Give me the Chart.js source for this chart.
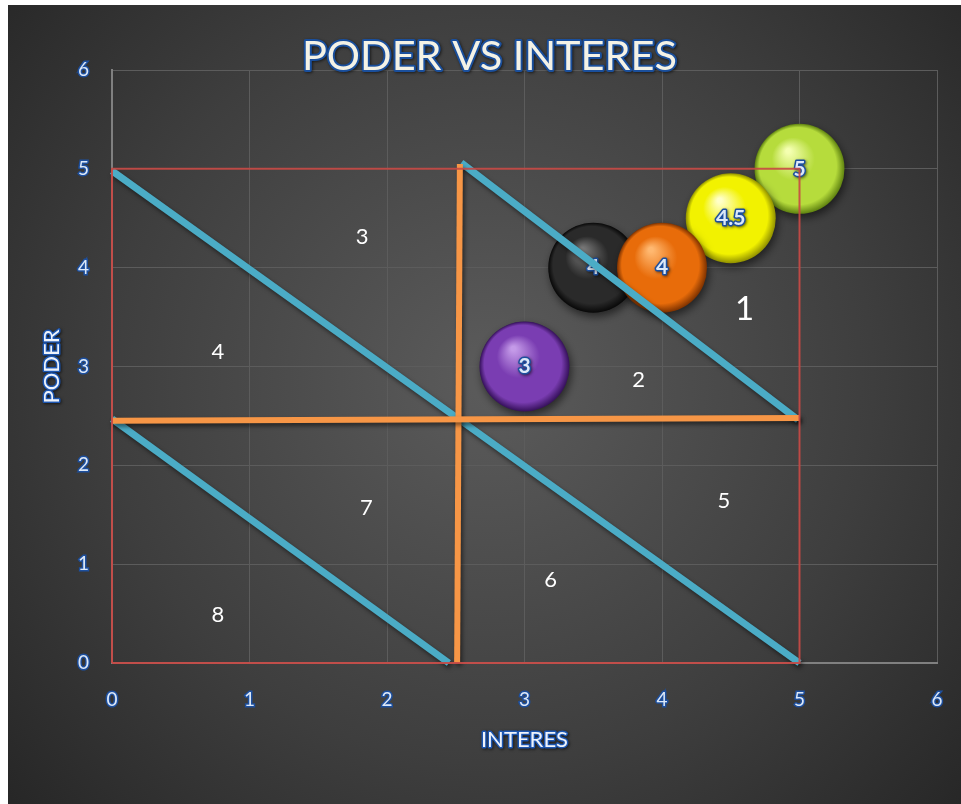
<!DOCTYPE html>
<html>
<head>
<meta charset="utf-8">
<script src="https://cdn.jsdelivr.net/npm/chart.js@4/dist/chart.umd.min.js"></script>
<style>
html,body{margin:0;padding:0;background:#ffffff;}
canvas{display:block;}
</style>
</head>
<body>
<canvas id="c" width="961" height="804"></canvas>
<script>
// ---- data ----
const titleText = 'PODER VS INTERES';
const xAxisTitle = 'INTERES';
const yAxisTitle = 'PODER';
const axisMin = 0, axisMax = 6, axisStep = 1;

// bubbles (drawing order: later on top)
const bubbleX = [5, 4.5, 3.5, 4, 3];
const bubbleY = [5, 4.5, 4, 4, 3];
const bubbleLabels = ['5', '4.5', '4', '4', '3'];

// red frame
const frameX = [0, 5, 5, 0, 0];
const frameY = [0, 0, 5, 5, 0];
// blue diagonals
const diagMainX = [0, 5];     const diagMainY = [4.98, 0];
const diagLowX  = [0, 2.45];  const diagLowY  = [2.47, 0];
const diagUpX   = [2.54, 4.99]; const diagUpY = [5.06, 2.46];
// orange cross
const vertX  = [2.53, 2.51];  const vertY  = [5.05, 0];
const horizX = [0, 5];        const horizY = [2.45, 2.48];

// region numbers
const regionText = ['1', '2', '3', '4', '5', '6', '7', '8'];
const regionX = [4.60, 3.83, 1.82, 0.77, 4.45, 3.19, 1.85, 0.77];
const regionY = [3.58, 2.86, 4.31, 3.15, 1.64, 0.84, 1.57, 0.49];

// ---- helpers ----
const pts = (xs, ys) => xs.map((x, i) => ({x: x, y: ys[i]}));
const sphereColors = [
  ['#f4ffb0', '#b6dc3c', '#5f8210'],   // lime
  ['#ffffc8', '#f2f200', '#8f8f00'],   // yellow
  ['#787878', '#2a2a2a', '#080808'],   // black
  ['#ffb870', '#e86c0a', '#7e3200'],   // orange
  ['#c49ae8', '#7a3db2', '#35105a']    // purple
];

function sphereFill(ctx) {
  const chart = ctx.chart;
  const c = sphereColors[ctx.dataIndex] || sphereColors[0];
  const sx = chart.scales && chart.scales.x, sy = chart.scales && chart.scales.y;
  if (!sx || !sy || !ctx.raw || !chart.chartArea) return c[1];
  const cx = sx.getPixelForValue(ctx.raw.x), cy = sy.getPixelForValue(ctx.raw.y);
  const r = 45;
  const g = chart.ctx.createRadialGradient(cx - r * 0.25, cy - r * 0.4, r * 0.05, cx, cy, r);
  g.addColorStop(0, c[0]);
  g.addColorStop(0.45, c[1]);
  g.addColorStop(0.85, c[1]);
  g.addColorStop(1, c[2]);
  return g;
}

function outlinedText(ctx, text, x, y, font, fill, stroke, sw) {
  ctx.save();
  ctx.font = font;
  ctx.textAlign = 'center';
  ctx.textBaseline = 'middle';
  ctx.lineJoin = 'round';
  ctx.shadowColor = 'rgba(0,0,0,0.6)';
  ctx.shadowBlur = 3;
  ctx.shadowOffsetX = 1;
  ctx.shadowOffsetY = 1;
  ctx.strokeStyle = stroke;
  ctx.lineWidth = sw;
  ctx.strokeText(text, x, y);
  ctx.shadowColor = 'transparent';
  ctx.fillStyle = fill;
  ctx.fillText(text, x, y);
  ctx.restore();
}

const bgPlugin = {
  id: 'bg',
  beforeDraw(chart) {
    const ctx = chart.ctx;
    ctx.save();
    const g = ctx.createRadialGradient(490, 380, 20, 490, 380, 680);
    g.addColorStop(0, '#5a5a5a');
    g.addColorStop(0.55, '#3e3e3e');
    g.addColorStop(1, '#232323');
    ctx.fillStyle = g;
    ctx.fillRect(8, 5, chart.width - 8, chart.height - 5);
    ctx.restore();
  }
};

const shadowPlugin = {
  id: 'shadows',
  beforeDatasetDraw(chart, args) {
    const ds = chart.data.datasets[args.index];
    const ctx = chart.ctx;
    ctx.save();
    if (ds.type === 'bubble') {
      ctx.shadowColor = 'rgba(0,0,0,0.55)';
      ctx.shadowBlur = 8;
      ctx.shadowOffsetX = 2;
      ctx.shadowOffsetY = 4;
    } else if (ds.shadowed) {
      ctx.shadowColor = 'rgba(0,0,0,0.5)';
      ctx.shadowBlur = 4;
      ctx.shadowOffsetX = 2;
      ctx.shadowOffsetY = 3;
    }
  },
  afterDatasetDraw(chart, args) {
    const ctx = chart.ctx;
    ctx.restore();
    const ds = chart.data.datasets[args.index];
    if (ds.type === 'bubble') {
      const sx = chart.scales.x, sy = chart.scales.y;
      ds.data.forEach((p, i) => {
        outlinedText(ctx, bubbleLabels[i], sx.getPixelForValue(p.x), sy.getPixelForValue(p.y),
          'bold 21px Lato', '#dce8f8', '#1d4f9e', 3);
      });
    }
  }
};

const textPlugin = {
  id: 'texts',
  afterDatasetsDraw(chart) {
    const ctx = chart.ctx;
    const sx = chart.scales.x, sy = chart.scales.y;
    ctx.save();
    ctx.textAlign = 'center';
    ctx.textBaseline = 'middle';
    ctx.fillStyle = '#ffffff';
    regionText.forEach((t, i) => {
      ctx.font = (t === '1' ? '33px' : '22px') + ' Lato';
      ctx.fillText(t, sx.getPixelForValue(regionX[i]), sy.getPixelForValue(regionY[i]));
    });
    ctx.restore();
  },
  afterDraw(chart) {
    const ctx = chart.ctx;
    const a = chart.chartArea;
    outlinedText(ctx, titleText, (a.left + a.right) / 2 - 35, 57, '41.5px Lato', '#f4f2e6', '#1a4f9c', 4);
    outlinedText(ctx, xAxisTitle, (a.left + a.right) / 2, 740, '22px Lato', '#eef3fb', '#1d56b0', 3);
    ctx.save();
    ctx.translate(52, (a.top + a.bottom) / 2);
    ctx.rotate(-Math.PI / 2);
    outlinedText(ctx, yAxisTitle, 0, 0, '22px Lato', '#eef3fb', '#1d56b0', 3);
    ctx.restore();
  }
};

const lineDs = (label, xs, ys, color, width, shadowed) => ({
  type: 'scatter',
  label: label,
  data: pts(xs, ys),
  showLine: true,
  borderColor: color,
  backgroundColor: color,
  borderWidth: width,
  pointRadius: 0,
  pointHoverRadius: 0,
  borderCapStyle: 'butt',
  tension: 0,
  order: 1,
  shadowed: shadowed,
  clip: false
});

new Chart(document.getElementById('c'), {
  data: {
    datasets: [
      lineDs('frame', frameX, frameY, 'rgba(200,72,68,0.9)', 2, false),
      lineDs('horiz', horizX, horizY, '#f79646', 6, true),
      lineDs('vert', vertX, vertY, '#f79646', 6, true),
      lineDs('diagMain', diagMainX, diagMainY, '#4bacc6', 7, true),
      lineDs('diagLow', diagLowX, diagLowY, '#4bacc6', 7, true),
      lineDs('diagUp', diagUpX, diagUpY, '#4bacc6', 7, true),
      {
        type: 'bubble',
        label: 'bubbles',
        data: pts(bubbleX, bubbleY),
        radius: 45,
        hoverRadius: 0,
        borderWidth: 0,
        backgroundColor: sphereFill,
        order: 10,
        clip: false
      }
    ]
  },
  options: {
    responsive: false,
    devicePixelRatio: 1,
    animation: false,
    events: [],
    layout: {autoPadding: false, padding: {top: 70, right: 24, left: 0, bottom: 0}},
    plugins: {
      legend: {display: false},
      title: {display: false},
      tooltip: {enabled: false}
    },
    scales: {
      x: {
        type: 'linear',
        min: axisMin, max: axisMax,
        afterFit(s) { s.height = 141; s.paddingLeft = 0; s.paddingRight = 0; },
        grid: {color: '#5c5c5c', lineWidth: 1, drawTicks: false},
        border: {color: '#808080', width: 2},
        ticks: {
          stepSize: axisStep,
          padding: 25,
          color: '#dce8f8',
          textStrokeColor: '#1d4f9e',
          textStrokeWidth: 3,
          font: {family: 'Lato', size: 19}
        }
      },
      y: {
        type: 'linear',
        min: axisMin, max: axisMax,
        afterFit(s) { s.width = 112; s.paddingTop = 0; s.paddingBottom = 0; },
        grid: {color: '#5c5c5c', lineWidth: 1, drawTicks: false},
        border: {color: '#808080', width: 2},
        ticks: {
          stepSize: axisStep,
          padding: 23,
          color: '#dce8f8',
          textStrokeColor: '#1d4f9e',
          textStrokeWidth: 3,
          font: {family: 'Lato', size: 19}
        }
      }
    }
  },
  plugins: [bgPlugin, shadowPlugin, textPlugin]
});
</script>
</body>
</html>
